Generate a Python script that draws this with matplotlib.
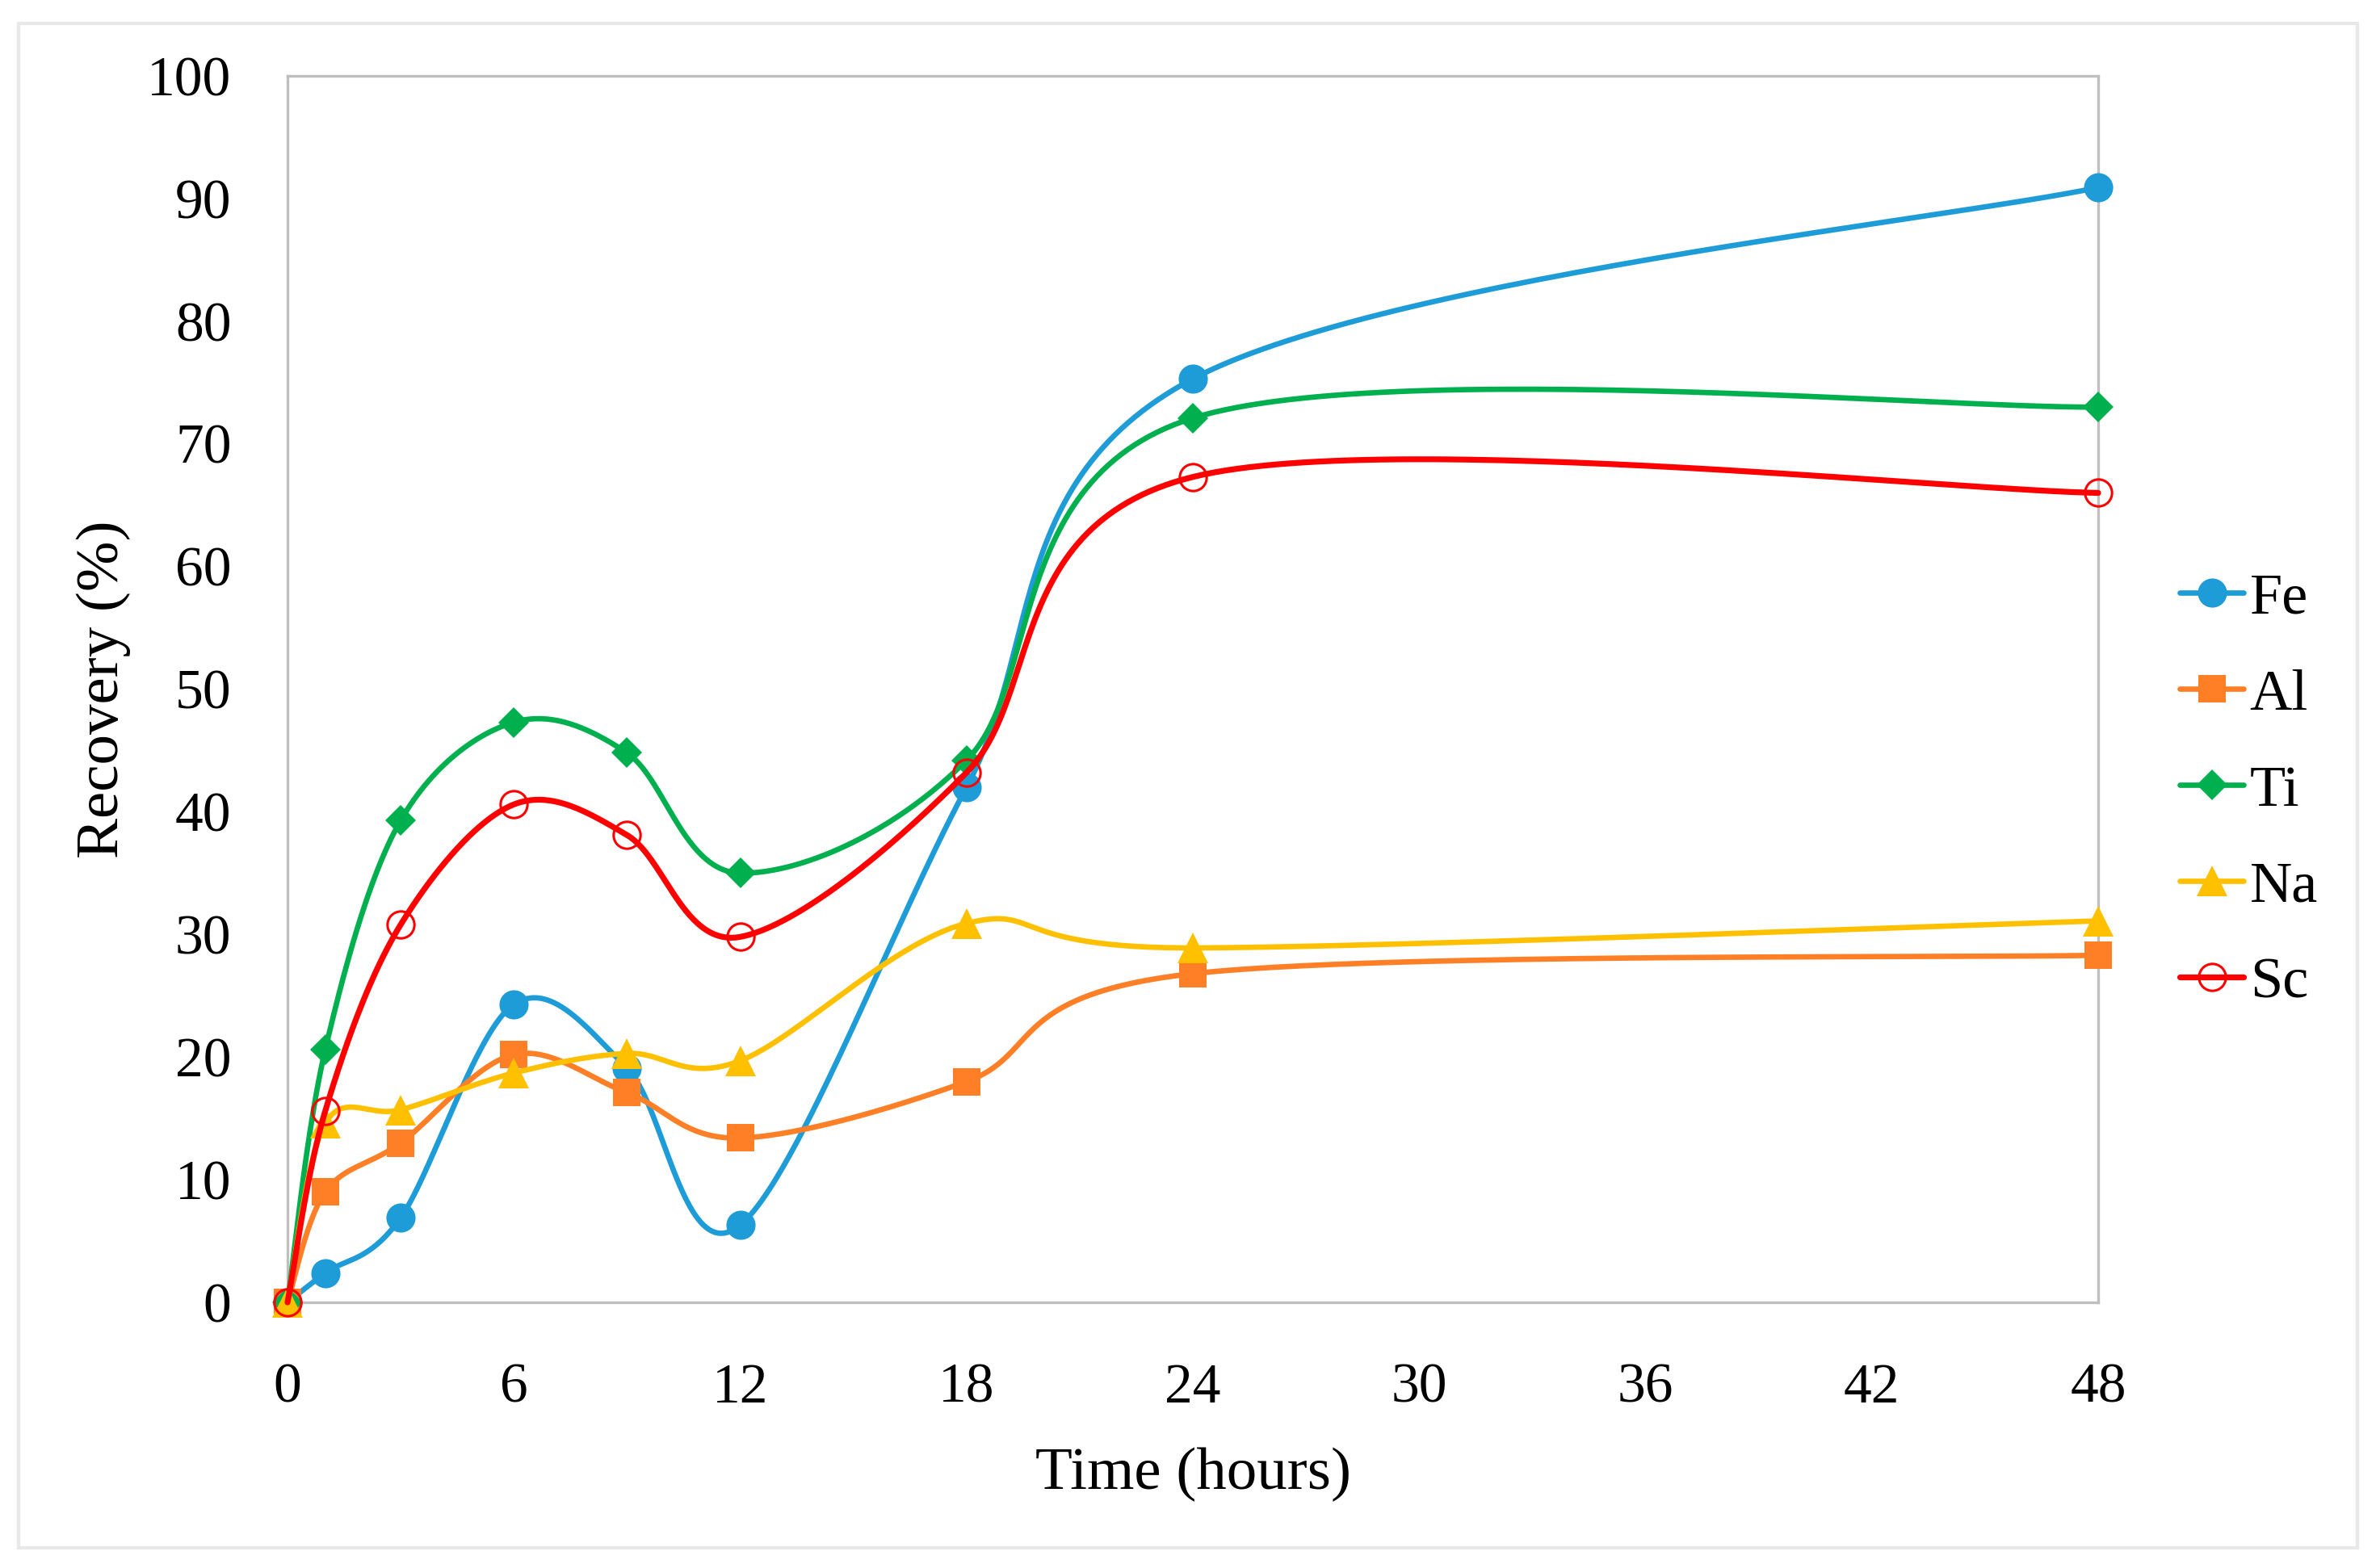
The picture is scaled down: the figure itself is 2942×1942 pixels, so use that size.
import numpy as np
import matplotlib
matplotlib.use("Agg")
import matplotlib.pyplot as plt
from matplotlib.patches import Rectangle

# ---- data ----
time_h = [0, 1, 3, 6, 9, 12, 18, 24, 48]
fe = [0.0, 2.4, 6.9, 24.3, 19.1, 6.3, 42.0, 75.3, 90.9]
al = [0.0, 9.0, 13.0, 20.2, 17.1, 13.4, 18.0, 26.8, 28.3]
ti = [0.0, 20.6, 39.3, 47.3, 44.8, 35.0, 44.2, 72.1, 73.0]
na = [0.0, 14.6, 15.7, 18.7, 20.3, 19.7, 30.9, 28.9, 31.1]
sc = [0.0, 15.6, 30.8, 40.6, 38.1, 29.8, 43.2, 67.3, 66.0]
series_names = ["Fe", "Al", "Ti", "Na", "Sc"]
x_ticks = [0, 6, 12, 18, 24, 30, 36, 42, 48]
y_ticks = [0, 10, 20, 30, 40, 50, 60, 70, 80, 90, 100]


def smooth(x, y, n=60):
    """Excel-like smoothed line (Catmull-Rom cubic Bezier segments)."""
    pts = np.column_stack([x, y]).astype(float)
    P = np.vstack([pts[0], pts, pts[-1]])
    out = []
    t = np.linspace(0, 1, n)[:, None]
    for i in range(1, len(P) - 2):
        p0, p1, p2, p3 = P[i - 1], P[i], P[i + 1], P[i + 2]
        c1 = p1 + (p2 - p0) / 6.0
        c2 = p2 - (p3 - p1) / 6.0
        seg = ((1 - t) ** 3) * p1 + 3 * ((1 - t) ** 2) * t * c1 \
            + 3 * (1 - t) * t ** 2 * c2 + t ** 3 * p2
        out.append(seg if i == 1 else seg[1:])
    s = np.vstack(out)
    return s[:, 0], s[:, 1]


plt.rcParams['font.family'] = ['Liberation Serif', 'DejaVu Serif']

fig = plt.figure(figsize=(14.71, 9.71), dpi=200)
ax = fig.add_axes([356 / 2942, 1 - 1613 / 1942, (2598 - 356) / 2942, (1613 - 94) / 1942])

styles = [
    dict(color="#1E9CD8", marker="o", ms=13, mfc="#1E9CD8", mec="#1E9CD8", mew=0, lw=2.4),
    dict(color="#FF7F27", marker="s", ms=12.5, mfc="#FF7F27", mec="#FF7F27", mew=0, lw=2.4),
    dict(color="#00B04F", marker="D", ms=9.5, mfc="#00B04F", mec="#00B04F", mew=0, lw=2.4),
    dict(color="#FFC000", marker="^", ms=14, mfc="#FFC000", mec="#FFC000", mew=0, lw=2.4),
    dict(color="#FF0000", marker="o", ms=12, mfc="none", mec="#FF0000", mew=1.1, lw=2.6),
]

handles = []
for k, (name, vals, st) in enumerate(zip(series_names, [fe, al, ti, na, sc], styles)):
    sx, sy = smooth(time_h, vals)
    z = 3 + k
    ax.plot(sx, sy, color=st["color"], lw=st["lw"], zorder=z, clip_on=False,
            solid_capstyle="round")
    ax.plot(time_h, vals, linestyle="none", marker=st["marker"], ms=st["ms"],
            mfc=st["mfc"], mec=st["mec"], mew=st["mew"], zorder=z, clip_on=False)
    h, = ax.plot([], [], color=st["color"], lw=st["lw"], marker=st["marker"], ms=st["ms"],
                 mfc=st["mfc"], mec=st["mec"], mew=st["mew"], solid_capstyle="round")
    handles.append(h)

ax.set_xlim(0, 48)
ax.set_ylim(0, 100)
ax.set_xticks(x_ticks)
ax.set_xticklabels([str(v) for v in x_ticks])
ax.set_yticks(y_ticks)
ax.set_yticklabels([str(v) for v in y_ticks])
ax.tick_params(axis="both", length=0, labelsize=25)
ax.tick_params(axis="y", pad=25)
ax.tick_params(axis="x", pad=27)

for sp in ax.spines.values():
    sp.set_color("#BFBFBF")
    sp.set_linewidth(1.2)

ax.set_xlabel("Time (hours)", fontsize=27, va="center")
ax.xaxis.set_label_coords(0.5, (1613 - 1826) / 1519)
ax.set_ylabel("Recovery (%)", fontsize=27, va="center")
ax.yaxis.set_label_coords((128 - 356) / 2242, 0.5)

leg = ax.legend(handles, series_names, loc="center left",
                bbox_to_anchor=(2699 / 2942, 1 - 980 / 1942),
                bbox_transform=fig.transFigure, frameon=False, fontsize=26,
                handlelength=1.1, handletextpad=0.1, labelspacing=0.74,
                borderpad=0, borderaxespad=0, numpoints=1)

fig.patches.append(Rectangle((23 / 2942, 1 - 1917 / 1942), (2919 - 23) / 2942,
                             (1917 - 29) / 1942, transform=fig.transFigure,
                             fill=False, edgecolor="#E8E8E8", lw=1.5, zorder=0))

fig.savefig("out.png", dpi=200, facecolor="white")
